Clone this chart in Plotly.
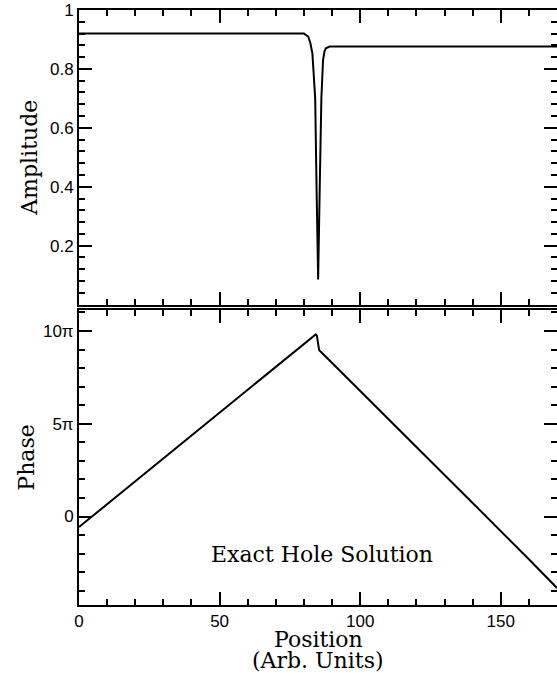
import plotly.graph_objects as go

# ---- data ----
amp_x = [0, 40, 80, 81.5, 82.3, 83.0, 83.5, 84.0, 84.5, 85.05, 85.6, 86.2, 86.8, 87.3, 87.8, 89.2, 130, 170]
amp_y = [0.92, 0.92, 0.92, 0.91, 0.887, 0.853, 0.78, 0.70, 0.39, 0.085, 0.39, 0.70, 0.83, 0.86, 0.87, 0.876, 0.876, 0.876]

# phase in units of pi
ph_x = [0, 20, 40, 60, 80, 83, 84.2, 84.6, 85.0, 85.4, 86, 100, 120, 140, 160, 170]
ph_y = [-0.57, 1.90, 4.37, 6.83, 9.30, 9.67, 9.82, 9.75, 9.30, 8.97, 8.88, 6.78, 3.76, 0.73, -2.30, -3.85]

amp_ticks = [0.2, 0.4, 0.6, 0.8, 1.0]
amp_ticktext = ["0.2", "0.4", "0.6", "0.8", "1"]
ph_ticks = [0, 5, 10]
ph_ticktext = ["0", "5\u03c0", "10\u03c0"]
x_ticks = [0, 50, 100, 150]

label_text = "Exact Hole Solution"
xtitle_line1 = "Position"
xtitle_line2 = "(Arb. Units)"

TICKFONT = dict(family="Liberation Sans", size=17, color="black")
TITLEFONT = dict(family="DejaVu Serif", size=22, color="black")

fig = go.Figure()
fig.add_trace(go.Scatter(x=amp_x, y=amp_y, mode="lines",
                         line=dict(color="black", width=2), xaxis="x", yaxis="y",
                         showlegend=False))
fig.add_trace(go.Scatter(x=ph_x, y=ph_y, mode="lines",
                         line=dict(color="black", width=2), xaxis="x2", yaxis="y2",
                         showlegend=False))

common_axis = dict(showline=True, linecolor="black", linewidth=2, mirror="allticks",
                   ticks="inside", ticklen=13, tickwidth=1.5, tickcolor="black",
                   showgrid=False, zeroline=False, tickfont=TICKFONT, automargin=False)
minor_common = dict(ticks="inside", ticklen=6, tickcolor="black", tickwidth=1.5)

fig.update_layout(
    width=557, height=677,
    margin=dict(l=79, r=0, t=10, b=72),
    paper_bgcolor="white", plot_bgcolor="white",
    xaxis=dict(**common_axis, domain=[0, 1], anchor="y", range=[0, 170],
               tickvals=x_ticks, showticklabels=False,
               minor=dict(dtick=10, tick0=0, **minor_common)),
    yaxis=dict(**common_axis, domain=[0.505, 1], anchor="x", range=[0, 1],
               tickvals=amp_ticks, ticktext=amp_ticktext,
               minor=dict(dtick=0.04, tick0=0, **minor_common),
               title=dict(text="Amplitude", font=TITLEFONT, standoff=6)),
    xaxis2=dict(**common_axis, domain=[0, 1], anchor="y2", range=[0, 170],
                tickvals=x_ticks,
                minor=dict(dtick=10, tick0=0, **minor_common)),
    yaxis2=dict(**common_axis, domain=[0, 0.496], anchor="x2", range=[-4.77, 11.14],
                tickvals=ph_ticks, ticktext=ph_ticktext,
                minor=dict(dtick=1, tick0=0, **minor_common),
                title=dict(text="Phase", font=TITLEFONT, standoff=2)),
    annotations=[
        dict(text=label_text, x=86.5, y=-2.05, xref="x2", yref="y2",
             showarrow=False, font=TITLEFONT, xanchor="center", yanchor="middle"),
        dict(text=xtitle_line1, x=0.5, y=0, xref="paper", yref="paper", yshift=-34,
             showarrow=False, font=TITLEFONT, xanchor="center", yanchor="middle"),
        dict(text=xtitle_line2, x=0.5, y=0, xref="paper", yref="paper", yshift=-55,
             showarrow=False, font=TITLEFONT, xanchor="center", yanchor="middle"),
    ],
)

fig.write_html("out.html", config={"displayModeBar": False},
               post_script="document.body.style.margin='0';document.body.style.overflow='hidden';")
